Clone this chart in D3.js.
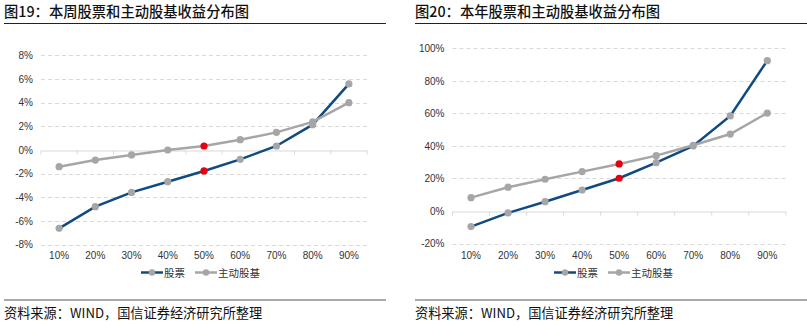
<!DOCTYPE html>
<html>
<head>
<meta charset="utf-8">
<script src="https://cdn.jsdelivr.net/npm/d3@7"></script>
<style>
  body { margin: 0; background: #fff; }
  svg { display: block; }
</style>
</head>
<body>
<div id="chart"></div>
<script>
// percentile buckets shared by both panels
var categories = ["10%", "20%", "30%", "40%", "50%", "60%", "70%", "80%", "90%"];

// weekly returns (%)
var weekStock = [-6.62, -4.79, -3.58, -2.68, -1.77, -0.79, 0.34, 2.14, 5.58];
var weekFund  = [-1.41, -0.85, -0.42, 0.0, 0.34, 0.87, 1.49, 2.37, 4.0];
var weekTicks = [-8, -6, -4, -2, 0, 2, 4, 6, 8];

// year-to-date returns (%)
var yearStock = [-9.6, -1.2, 5.7, 12.9, 20.1, 29.7, 40.0, 58.4, 92.4];
var yearFund  = [8.2, 14.6, 19.5, 24.2, 28.9, 34.0, 40.4, 47.3, 60.2];
var yearTicks = [-20, 0, 20, 40, 60, 80, 100];

var seriesNames = ["股票", "主动股基"];
var highlightIndex = 4; // median bucket drawn in red

var BLUE = "#0f4a80", GREY = "#a6a6a6", RED = "#e60012";
var latin = "'Liberation Sans', Arial, sans-serif";
var cjk = "'Noto Sans CJK SC', sans-serif";

var svg = d3.select("#chart").append("svg")
    .attr("width", 807)
    .attr("height", 330);

function drawPanel(opt) {
    var g = svg.append("g");

    // heading and rules
    g.append("text")
        .attr("x", opt.left)
        .attr("y", 17)
        .style("font-family", cjk)
        .style("font-size", "14.3px")
        .style("font-weight", "500")
        .attr("fill", "#111")
        .text(opt.title);
    g.append("line")
        .attr("x1", opt.left).attr("x2", opt.right)
        .attr("y1", 23.5).attr("y2", 23.5)
        .attr("stroke", "#222").attr("stroke-width", 1.2);
    g.append("line")
        .attr("x1", opt.left).attr("x2", opt.right)
        .attr("y1", 300).attr("y2", 300)
        .attr("stroke", "#555").attr("stroke-width", 1.2);
    g.append("text")
        .attr("x", opt.left)
        .attr("y", 318)
        .style("font-family", cjk)
        .style("font-size", "13.2px")
        .attr("fill", "#111")
        .text("资料来源：WIND，国信证券经济研究所整理");

    var x = d3.scaleBand().domain(categories).range(opt.xRange);
    var y = d3.scaleLinear().domain(opt.yDomain).range(opt.yRange);
    var cx = function(d, i) { return x(categories[i]) + x.bandwidth() / 2; };

    // dashed gridlines
    g.append("g").selectAll("line")
        .data(opt.ticks.filter(function(t) { return t !== 0; }))
        .join("line")
        .attr("x1", opt.xRange[0]).attr("x2", opt.xRange[1])
        .attr("y1", function(d) { return Math.round(y(d)) + 0.5; })
        .attr("y2", function(d) { return Math.round(y(d)) + 0.5; })
        .attr("stroke", "#d9d9d9")
        .attr("stroke-dasharray", "4,3");

    // y labels
    var yAxis = g.append("g")
        .attr("transform", "translate(" + opt.xRange[0] + ",0)")
        .call(d3.axisLeft(y).tickValues(opt.ticks)
            .tickFormat(function(d) { return d + "%"; })
            .tickSize(0).tickPadding(8));
    yAxis.select(".domain").remove();
    yAxis.selectAll("text")
        .style("font-family", latin)
        .style("font-size", "10px")
        .attr("fill", "#333");

    // zero line with category ticks
    var zeroY = Math.round(y(0)) + 0.5;
    var xAxis = g.append("g")
        .attr("transform", "translate(0," + zeroY + ")")
        .call(d3.axisBottom(x).tickSize(0).tickFormat(""));
    xAxis.select(".domain").attr("stroke", "#d9d9d9");
    xAxis.append("g").selectAll("line")
        .data(d3.range(categories.length + 1))
        .join("line")
        .attr("x1", function(i) { return opt.xRange[0] + i * x.step(); })
        .attr("x2", function(i) { return opt.xRange[0] + i * x.step(); })
        .attr("y1", 0).attr("y2", 4)
        .attr("stroke", "#d9d9d9");

    // category labels along the bottom
    g.append("g").selectAll("text")
        .data(categories)
        .join("text")
        .attr("x", function(d) { return x(d) + x.bandwidth() / 2; })
        .attr("y", 259)
        .attr("text-anchor", "middle")
        .style("font-family", latin)
        .style("font-size", "10px")
        .attr("fill", "#333")
        .text(function(d) { return d; });

    var line = d3.line()
        .x(cx)
        .y(function(d) { return y(d); });

    var series = [
        { values: opt.stock, color: BLUE },
        { values: opt.fund, color: GREY }
    ];

    series.forEach(function(s) {
        g.append("path")
            .datum(s.values)
            .attr("d", line)
            .attr("fill", "none")
            .attr("stroke", s.color)
            .attr("stroke-width", 2.5);
    });
    series.forEach(function(s) {
        g.append("g").selectAll("circle")
            .data(s.values)
            .join("circle")
            .attr("cx", cx)
            .attr("cy", function(d) { return y(d); })
            .attr("r", 3.6)
            .attr("fill", function(d, i) { return i === highlightIndex ? RED : GREY; });
    });

    // legend
    var lg = g.append("g").attr("transform", "translate(" + opt.legendX + ",272.5)");
    var offset = 0;
    series.forEach(function(s, i) {
        var item = lg.append("g").attr("transform", "translate(" + offset + ",0)");
        item.append("line")
            .attr("x1", 0).attr("x2", 22)
            .attr("stroke", s.color).attr("stroke-width", 2.5);
        item.append("circle").attr("cx", 11).attr("r", 3.2).attr("fill", GREY);
        var label = item.append("text")
            .attr("x", 23).attr("y", 4.5)
            .style("font-family", cjk)
            .style("font-size", "10.5px")
            .attr("fill", "#333")
            .text(seriesNames[i]);
        offset += 23 + label.node().getComputedTextLength() + 10;
    });
}

drawPanel({
    title: "图19：本周股票和主动股基收益分布图",
    left: 4, right: 386,
    xRange: [41, 367],
    yDomain: [-8, 8], yRange: [244.7, 55.3],
    ticks: weekTicks,
    stock: weekStock, fund: weekFund,
    legendX: 141
});

drawPanel({
    title: "图20：本年股票和主动股基收益分布图",
    left: 415, right: 807,
    xRange: [452.5, 785.8],
    yDomain: [-20, 100], yRange: [243.5, 48.3],
    ticks: yearTicks,
    stock: yearStock, fund: yearFund,
    legendX: 554
});
</script>
</body>
</html>
